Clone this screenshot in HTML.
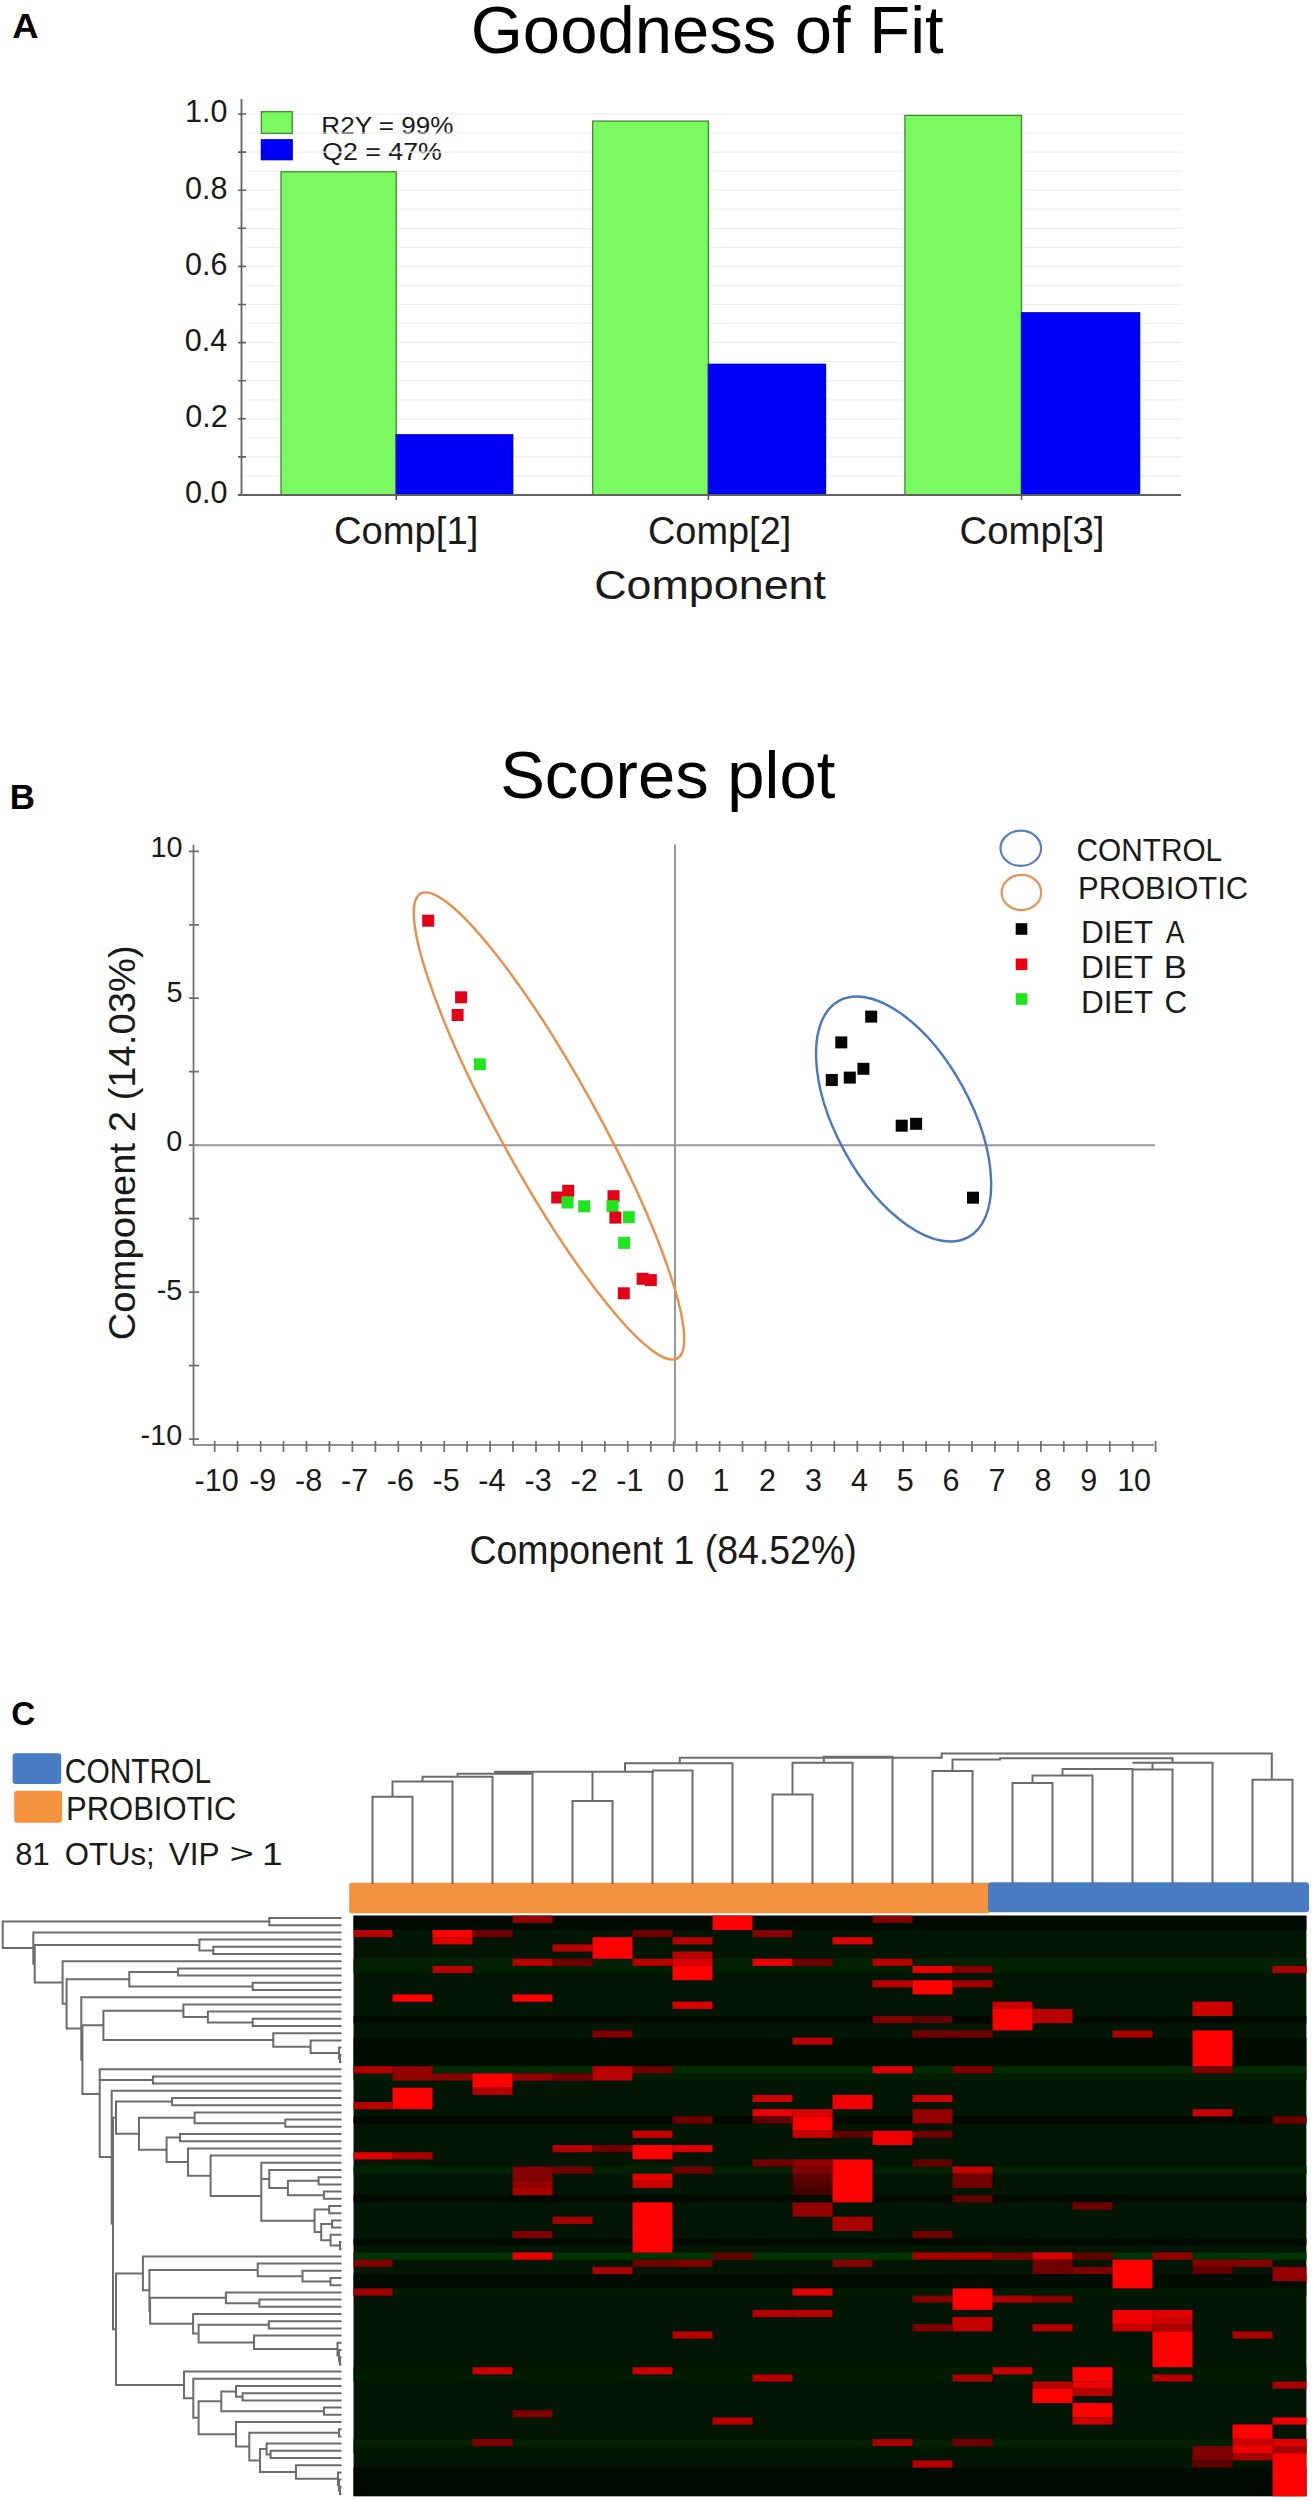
<!DOCTYPE html><html><head><meta charset="utf-8"><style>html,body{margin:0;padding:0;background:#fff;}svg{display:block}</style></head><body>
<svg width="1313" height="2500" viewBox="0 0 1313 2500">
<rect width="1313" height="2500" fill="#fff"/>
<text font-family="Liberation Sans" font-size="100" font-weight="bold" fill="#000" transform="matrix(0.36364 0 0 0.34884 12.16 37.90)">A</text>
<text font-family="Liberation Sans" font-size="100" font-weight="normal" fill="#000" transform="matrix(0.67014 0 0 0.67297 470.75 53.00)">Goodness of Fit</text>
<text font-family="Liberation Sans" font-size="100" font-weight="normal" fill="#1a1a1a" transform="matrix(0.26101 0 0 0.24709 321.31 134.20)">R2Y = 99%</text>
<text font-family="Liberation Sans" font-size="100" font-weight="normal" fill="#1a1a1a" transform="matrix(0.26788 0 0 0.24709 322.06 160.40)">Q2 = 47%</text>
<text font-family="Liberation Sans" font-size="100" font-weight="normal" fill="#1a1a1a" transform="matrix(0.38197 0 0 0.37936 333.99 544.00)">Comp[1]</text>
<text font-family="Liberation Sans" font-size="100" font-weight="normal" fill="#1a1a1a" transform="matrix(0.37923 0 0 0.37936 648.00 544.00)">Comp[2]</text>
<text font-family="Liberation Sans" font-size="100" font-weight="normal" fill="#1a1a1a" transform="matrix(0.38333 0 0 0.37936 959.58 544.00)">Comp[3]</text>
<text font-family="Liberation Sans" font-size="100" font-weight="normal" fill="#1a1a1a" transform="matrix(0.44814 0 0 0.41279 594.26 599.40)">Component</text>
<path d="M246 475.9H1182 M246 456.9H1182 M246 437.9H1182 M246 418.8H1182 M246 399.8H1182 M246 380.7H1182 M246 361.6H1182 M246 342.6H1182 M246 323.5H1182 M246 304.5H1182 M246 285.4H1182 M246 266.4H1182 M246 247.3H1182 M246 228.3H1182 M246 209.2H1182 M246 190.2H1182 M246 171.1H1182 M246 152.1H1182 M246 133.0H1182 M246 114.0H1182" stroke="#eeeeee" stroke-width="1.2" fill="none"/>
<rect x="281.0" y="171.8" width="115.2" height="323.2" fill="#7afa60" stroke="#3f8a32" stroke-width="1.3"/>
<rect x="396.2" y="434.8" width="116.5" height="60.2" fill="#0000fa" stroke="#0000d8" stroke-width="1.3"/>
<rect x="592.7" y="121.1" width="115.7" height="373.9" fill="#7afa60" stroke="#3f8a32" stroke-width="1.3"/>
<rect x="708.4" y="364.3" width="117.1" height="130.7" fill="#0000fa" stroke="#0000d8" stroke-width="1.3"/>
<rect x="904.9" y="115.4" width="116.6" height="379.6" fill="#7afa60" stroke="#3f8a32" stroke-width="1.3"/>
<rect x="1021.5" y="312.8" width="118.1" height="182.2" fill="#0000fa" stroke="#0000d8" stroke-width="1.3"/>
<path d="M241.5 99V495.0M238 495.0H1181" stroke="#606060" stroke-width="1.8" fill="none"/>
<path d="M238 495.0H246 M238 456.9H246 M238 418.8H246 M238 380.7H246 M238 342.6H246 M238 304.5H246 M238 266.4H246 M238 228.3H246 M238 190.2H246 M238 152.1H246 M238 114.0H246 M396.2 495.0V500.0 M708.4 495.0V500.0 M1021.5 495.0V500.0" stroke="#606060" stroke-width="1.6" fill="none"/>
<text font-family="Liberation Sans" font-size="100" fill="#1a1a1a" transform="matrix(0.30523 0 0 0.30523 184.99 503.40)">0.0</text>
<text font-family="Liberation Sans" font-size="100" fill="#1a1a1a" transform="matrix(0.30523 0 0 0.30523 185.30 427.20)">0.2</text>
<text font-family="Liberation Sans" font-size="100" fill="#1a1a1a" transform="matrix(0.30523 0 0 0.30523 184.69 351.00)">0.4</text>
<text font-family="Liberation Sans" font-size="100" fill="#1a1a1a" transform="matrix(0.30523 0 0 0.30523 184.99 274.80)">0.6</text>
<text font-family="Liberation Sans" font-size="100" fill="#1a1a1a" transform="matrix(0.30523 0 0 0.30523 184.99 198.60)">0.8</text>
<text font-family="Liberation Sans" font-size="100" fill="#1a1a1a" transform="matrix(0.30523 0 0 0.30523 184.99 122.40)">1.0</text>
<rect x="261.4" y="111.7" width="30.8" height="21.7" fill="#7afa60" stroke="#3f8a32" stroke-width="1.3"/>
<rect x="261.4" y="139.8" width="30.8" height="19.9" fill="#0000fa" stroke="#0000d8" stroke-width="1.3"/>
<text font-family="Liberation Sans" font-size="100" font-weight="bold" fill="#000" transform="matrix(0.34918 0 0 0.34157 9.76 808.50)">B</text>
<text font-family="Liberation Sans" font-size="100" font-weight="normal" fill="#000" transform="matrix(0.67010 0 0 0.65843 500.15 797.80)">Scores plot</text>
<text font-family="Liberation Sans" font-size="100" font-weight="normal" fill="#1a1a1a" transform="matrix(0.37458 0 0 0.40407 469.43 1564.00)">Component 1 (84.52%)</text>
<text font-family="Liberation Sans" font-size="100" font-weight="normal" fill="#1a1a1a" transform="matrix(0.29792 0 0 0.31395 1076.51 861.10)">CONTROL</text>
<text font-family="Liberation Sans" font-size="100" font-weight="normal" fill="#1a1a1a" transform="matrix(0.30948 0 0 0.31395 1078.02 899.20)">PROBIOTIC</text>
<text font-family="Liberation Sans" font-size="100" font-weight="normal" fill="#1a1a1a" transform="matrix(0.31560 0 0 0.31395 1081.08 943.40)">DIET</text>
<text font-family="Liberation Sans" font-size="100" font-weight="normal" fill="#1a1a1a" transform="matrix(0.28030 0 0 0.31395 1165.80 943.40)">A</text>
<text font-family="Liberation Sans" font-size="100" font-weight="normal" fill="#1a1a1a" transform="matrix(0.31560 0 0 0.31395 1081.08 978.30)">DIET</text>
<text font-family="Liberation Sans" font-size="100" font-weight="normal" fill="#1a1a1a" transform="matrix(0.34528 0 0 0.31395 1163.74 978.30)">B</text>
<text font-family="Liberation Sans" font-size="100" font-weight="normal" fill="#1a1a1a" transform="matrix(0.31560 0 0 0.31395 1081.08 1013.30)">DIET</text>
<text font-family="Liberation Sans" font-size="100" font-weight="normal" fill="#1a1a1a" transform="matrix(0.31429 0 0 0.31395 1164.43 1013.30)">C</text>
<g transform="translate(135.3 1338.3) rotate(-90)"><text font-family="Liberation Sans" font-size="100" fill="#1a1a1a" transform="matrix(0.38192 0 0 0.37791 -1.91 0)">Component 2 (14.03%)</text></g>
<path d="M193.5 844.5V1445.5M193.5 1445H1154 M189 851.3H199 M189 924.8H199 M189 998.2H199 M189 1071.7H199 M189 1145.2H199 M189 1218.7H199 M189 1292.1H199 M189 1365.6H199 M189 1439.1H199 M214.7 1441V1452 M237.6 1441V1452 M260.6 1441V1452 M283.5 1441V1452 M306.5 1441V1452 M329.4 1441V1452 M352.4 1441V1452 M375.4 1441V1452 M398.3 1441V1452 M421.2 1441V1452 M444.2 1441V1452 M467.1 1441V1452 M490.1 1441V1452 M513.0 1441V1452 M536.0 1441V1452 M559.0 1441V1452 M581.9 1441V1452 M604.8 1441V1452 M627.8 1441V1452 M650.8 1441V1452 M673.7 1441V1452 M696.6 1441V1452 M719.6 1441V1452 M742.5 1441V1452 M765.5 1441V1452 M788.5 1441V1452 M811.4 1441V1452 M834.3 1441V1452 M857.3 1441V1452 M880.2 1441V1452 M903.2 1441V1452 M926.1 1441V1452 M949.1 1441V1452 M972.0 1441V1452 M995.0 1441V1452 M1018.0 1441V1452 M1040.9 1441V1452 M1063.8 1441V1452 M1086.8 1441V1452 M1109.8 1441V1452 M1132.7 1441V1452 M1155.6 1441V1452" stroke="#6e6e6e" stroke-width="1.7" fill="none"/>
<path d="M193.5 1145.2H1155M675 844.5V1445" stroke="#999" stroke-width="2" fill="none"/>
<text font-family="Liberation Sans" font-size="100" fill="#1a1a1a" transform="matrix(0.28779 0 0 0.28779 150.41 857.40)">10</text>
<text font-family="Liberation Sans" font-size="100" fill="#1a1a1a" transform="matrix(0.28779 0 0 0.28779 166.52 1002.10)">5</text>
<text font-family="Liberation Sans" font-size="100" fill="#1a1a1a" transform="matrix(0.28779 0 0 0.28779 166.23 1151.40)">0</text>
<text font-family="Liberation Sans" font-size="100" fill="#1a1a1a" transform="matrix(0.28779 0 0 0.28779 156.74 1299.60)">-5</text>
<text font-family="Liberation Sans" font-size="100" fill="#1a1a1a" transform="matrix(0.28779 0 0 0.28779 140.62 1445.40)">-10</text>
<text font-family="Liberation Sans" font-size="100" fill="#1a1a1a" transform="matrix(0.30523 0 0 0.30523 194.57 1491.00)">-10</text>
<text font-family="Liberation Sans" font-size="100" fill="#1a1a1a" transform="matrix(0.30523 0 0 0.30523 249.17 1491.00)">-9</text>
<text font-family="Liberation Sans" font-size="100" fill="#1a1a1a" transform="matrix(0.30523 0 0 0.30523 295.07 1491.00)">-8</text>
<text font-family="Liberation Sans" font-size="100" fill="#1a1a1a" transform="matrix(0.30523 0 0 0.30523 340.97 1491.00)">-7</text>
<text font-family="Liberation Sans" font-size="100" fill="#1a1a1a" transform="matrix(0.30523 0 0 0.30523 386.87 1491.00)">-6</text>
<text font-family="Liberation Sans" font-size="100" fill="#1a1a1a" transform="matrix(0.30523 0 0 0.30523 432.62 1491.00)">-5</text>
<text font-family="Liberation Sans" font-size="100" fill="#1a1a1a" transform="matrix(0.30523 0 0 0.30523 478.36 1491.00)">-4</text>
<text font-family="Liberation Sans" font-size="100" fill="#1a1a1a" transform="matrix(0.30523 0 0 0.30523 524.57 1491.00)">-3</text>
<text font-family="Liberation Sans" font-size="100" fill="#1a1a1a" transform="matrix(0.30523 0 0 0.30523 570.47 1491.00)">-2</text>
<text font-family="Liberation Sans" font-size="100" fill="#1a1a1a" transform="matrix(0.30523 0 0 0.30523 616.37 1491.00)">-1</text>
<text font-family="Liberation Sans" font-size="100" fill="#1a1a1a" transform="matrix(0.30523 0 0 0.30523 667.15 1491.00)">0</text>
<text font-family="Liberation Sans" font-size="100" fill="#1a1a1a" transform="matrix(0.30523 0 0 0.30523 712.60 1491.00)">1</text>
<text font-family="Liberation Sans" font-size="100" fill="#1a1a1a" transform="matrix(0.30523 0 0 0.30523 758.95 1491.00)">2</text>
<text font-family="Liberation Sans" font-size="100" fill="#1a1a1a" transform="matrix(0.30523 0 0 0.30523 805.01 1491.00)">3</text>
<text font-family="Liberation Sans" font-size="100" fill="#1a1a1a" transform="matrix(0.30523 0 0 0.30523 850.91 1491.00)">4</text>
<text font-family="Liberation Sans" font-size="100" fill="#1a1a1a" transform="matrix(0.30523 0 0 0.30523 896.81 1491.00)">5</text>
<text font-family="Liberation Sans" font-size="100" fill="#1a1a1a" transform="matrix(0.30523 0 0 0.30523 942.55 1491.00)">6</text>
<text font-family="Liberation Sans" font-size="100" fill="#1a1a1a" transform="matrix(0.30523 0 0 0.30523 988.45 1491.00)">7</text>
<text font-family="Liberation Sans" font-size="100" fill="#1a1a1a" transform="matrix(0.30523 0 0 0.30523 1034.51 1491.00)">8</text>
<text font-family="Liberation Sans" font-size="100" fill="#1a1a1a" transform="matrix(0.30523 0 0 0.30523 1080.25 1491.00)">9</text>
<text font-family="Liberation Sans" font-size="100" fill="#1a1a1a" transform="matrix(0.30523 0 0 0.30523 1117.15 1491.00)">10</text>
<ellipse cx="549" cy="1126" rx="265.5" ry="48.8" transform="rotate(61.1 549 1126)" fill="none" stroke="#e98f4a" stroke-width="2.4"/>
<ellipse cx="903.6" cy="1119" rx="134.7" ry="67.3" transform="rotate(61.3 903.6 1119)" fill="none" stroke="#4a78bc" stroke-width="2.4"/>
<rect x="422.2" y="914.7" width="12" height="12" fill="#e5001a"/>
<rect x="455.1" y="991.3" width="12" height="12" fill="#e5001a"/>
<rect x="451.6" y="1009.0" width="12" height="12" fill="#e5001a"/>
<rect x="473.8" y="1058.3" width="12" height="12" fill="#1ee61e"/>
<rect x="551.2" y="1191.5" width="12" height="12" fill="#e5001a"/>
<rect x="562.2" y="1184.8" width="12" height="12" fill="#e5001a"/>
<rect x="561.5" y="1196.5" width="12" height="12" fill="#1ee61e"/>
<rect x="578.2" y="1200.3" width="12" height="12" fill="#1ee61e"/>
<rect x="607.5" y="1190.2" width="12" height="12" fill="#e5001a"/>
<rect x="606.5" y="1200.2" width="12" height="12" fill="#1ee61e"/>
<rect x="609.4" y="1211.6" width="12" height="12" fill="#e5001a"/>
<rect x="622.8" y="1211.2" width="12" height="12" fill="#1ee61e"/>
<rect x="618.1" y="1236.9" width="12" height="12" fill="#1ee61e"/>
<rect x="636.6" y="1272.8" width="12" height="12" fill="#e5001a"/>
<rect x="644.8" y="1274.1" width="12" height="12" fill="#e5001a"/>
<rect x="617.8" y="1287.3" width="12" height="12" fill="#e5001a"/>
<rect x="865.2" y="1010.6" width="12" height="12" fill="#050505"/>
<rect x="835.3" y="1036.4" width="12" height="12" fill="#050505"/>
<rect x="857.4" y="1062.8" width="12" height="12" fill="#050505"/>
<rect x="843.8" y="1071.6" width="12" height="12" fill="#050505"/>
<rect x="825.8" y="1074.0" width="12" height="12" fill="#050505"/>
<rect x="895.7" y="1119.7" width="12" height="12" fill="#050505"/>
<rect x="910.1" y="1117.8" width="12" height="12" fill="#050505"/>
<rect x="967.0" y="1191.7" width="12" height="12" fill="#050505"/>
<ellipse cx="1020.8" cy="848.3" rx="20.3" ry="17.6" fill="none" stroke="#5a7fc0" stroke-width="2.2"/>
<ellipse cx="1021.4" cy="892.5" rx="19.8" ry="17.6" fill="none" stroke="#e2945a" stroke-width="2.2"/>
<rect x="1015.7" y="923.2" width="11.6" height="11.6" fill="#050505"/>
<rect x="1015.7" y="958.5" width="11.6" height="11.6" fill="#ee0010"/>
<rect x="1015.7" y="993.2" width="11.6" height="11.6" fill="#1ee61e"/>
<text font-family="Liberation Sans" font-size="100" font-weight="bold" fill="#000" transform="matrix(0.33231 0 0 0.32558 11.27 1725.40)">C</text>
<text font-family="Liberation Sans" font-size="100" font-weight="normal" fill="#1a1a1a" transform="matrix(0.29917 0 0 0.34884 64.80 1783.40)">CONTROL</text>
<text font-family="Liberation Sans" font-size="100" font-weight="normal" fill="#1a1a1a" transform="matrix(0.31004 0 0 0.33430 66.02 1820.00)">PROBIOTIC</text>
<text font-family="Liberation Sans" font-size="100" font-weight="normal" fill="#1a1a1a" transform="matrix(0.30882 0 0 0.31541 15.26 1864.50)">81</text>
<text font-family="Liberation Sans" font-size="100" font-weight="normal" fill="#1a1a1a" transform="matrix(0.31164 0 0 0.31541 64.74 1864.50)">OTUs;</text>
<text font-family="Liberation Sans" font-size="100" font-weight="normal" fill="#1a1a1a" transform="matrix(0.31613 0 0 0.31541 168.68 1864.50)">VIP</text>
<text font-family="Liberation Sans" font-size="100" font-weight="normal" fill="#1a1a1a" transform="matrix(0.41837 0 0 0.27180 229.41 1863.20)">&gt;</text>
<text font-family="Liberation Sans" font-size="100" font-weight="normal" fill="#1a1a1a" transform="matrix(0.37209 0 0 0.31541 262.02 1864.50)">1</text>
<rect x="12.6" y="1753.3" width="48.6" height="30.6" rx="3" fill="#4a7cc4"/>
<rect x="14.2" y="1790.7" width="47.9" height="32" rx="3" fill="#f4923e"/>
<rect x="349.2" y="1882.8" width="641" height="30.4" rx="2" fill="#f4923e"/>
<rect x="988" y="1882.3" width="321" height="30" rx="3" fill="#4a7cc4"/>
<rect x="353.5" y="1915.7" width="952.9" height="580.5" fill="#031603"/>
<rect x="353.5" y="1915.7" width="952.9" height="7.17" fill="rgb(0,10,0)"/>
<rect x="353.5" y="1922.9" width="952.9" height="7.17" fill="rgb(0,12,0)"/>
<rect x="353.5" y="1958.7" width="952.9" height="7.17" fill="rgb(0,34,0)"/>
<rect x="353.5" y="1965.9" width="952.9" height="7.17" fill="rgb(0,32,0)"/>
<rect x="353.5" y="2016.0" width="952.9" height="7.17" fill="rgb(0,9,0)"/>
<rect x="353.5" y="2037.5" width="952.9" height="7.17" fill="rgb(0,13,0)"/>
<rect x="353.5" y="2044.7" width="952.9" height="7.17" fill="rgb(0,12,0)"/>
<rect x="353.5" y="2051.9" width="952.9" height="7.17" fill="rgb(0,13,0)"/>
<rect x="353.5" y="2059.0" width="952.9" height="7.17" fill="rgb(0,14,0)"/>
<rect x="353.5" y="2066.2" width="952.9" height="7.17" fill="rgb(0,44,0)"/>
<rect x="353.5" y="2073.4" width="952.9" height="7.17" fill="rgb(0,30,0)"/>
<rect x="353.5" y="2116.4" width="952.9" height="7.17" fill="rgb(0,10,0)"/>
<rect x="353.5" y="2166.5" width="952.9" height="7.17" fill="rgb(0,34,0)"/>
<rect x="353.5" y="2195.2" width="952.9" height="7.17" fill="rgb(0,11,0)"/>
<rect x="353.5" y="2238.2" width="952.9" height="7.17" fill="rgb(0,11,0)"/>
<rect x="353.5" y="2252.5" width="952.9" height="7.17" fill="rgb(0,52,0)"/>
<rect x="353.5" y="2274.0" width="952.9" height="7.17" fill="rgb(0,13,0)"/>
<rect x="353.5" y="2281.2" width="952.9" height="7.17" fill="rgb(0,13,0)"/>
<rect x="353.5" y="2288.4" width="952.9" height="7.17" fill="rgb(0,28,0)"/>
<rect x="353.5" y="2367.2" width="952.9" height="7.17" fill="rgb(0,28,0)"/>
<rect x="353.5" y="2374.4" width="952.9" height="7.17" fill="rgb(0,28,0)"/>
<rect x="353.5" y="2438.9" width="952.9" height="7.17" fill="rgb(0,32,0)"/>
<rect x="353.5" y="2446.0" width="952.9" height="7.17" fill="rgb(0,26,0)"/>
<rect x="353.5" y="2467.5" width="952.9" height="7.17" fill="rgb(0,11,0)"/>
<rect x="353.5" y="2474.7" width="952.9" height="7.17" fill="rgb(0,10,0)"/>
<rect x="353.5" y="2481.9" width="952.9" height="7.17" fill="rgb(0,10,0)"/>
<rect x="353.5" y="2489.0" width="952.9" height="7.17" fill="rgb(0,9,0)"/>
<rect x="512.5" y="1915.7" width="40.0" height="7.2" fill="rgb(148,0,0)"/>
<rect x="353.5" y="1930.0" width="39.0" height="7.2" fill="rgb(184,0,0)"/>
<rect x="432.5" y="1930.0" width="40.0" height="7.2" fill="rgb(255,0,0)"/>
<rect x="432.5" y="1937.2" width="40.0" height="7.2" fill="rgb(220,0,0)"/>
<rect x="472.5" y="1930.0" width="40.0" height="7.2" fill="rgb(112,0,0)"/>
<rect x="632.5" y="1930.0" width="40.0" height="7.2" fill="rgb(112,0,0)"/>
<rect x="552.5" y="1944.4" width="40.0" height="7.2" fill="rgb(184,0,0)"/>
<rect x="592.5" y="1937.2" width="40.0" height="21.5" fill="rgb(255,0,0)"/>
<rect x="512.5" y="1958.7" width="40.0" height="7.2" fill="rgb(184,0,0)"/>
<rect x="552.5" y="1958.7" width="40.0" height="7.2" fill="rgb(112,0,0)"/>
<rect x="632.5" y="1958.7" width="40.0" height="7.2" fill="rgb(184,0,0)"/>
<rect x="432.5" y="1965.9" width="40.0" height="7.2" fill="rgb(184,0,0)"/>
<rect x="392.5" y="1994.5" width="40.0" height="7.2" fill="rgb(255,0,0)"/>
<rect x="512.5" y="1994.5" width="40.0" height="7.2" fill="rgb(255,0,0)"/>
<rect x="592.5" y="2030.4" width="40.0" height="7.2" fill="rgb(126,0,0)"/>
<rect x="353.5" y="2066.2" width="39.0" height="7.2" fill="rgb(184,0,0)"/>
<rect x="392.5" y="2066.2" width="40.0" height="14.3" fill="rgb(148,0,0)"/>
<rect x="432.5" y="2073.4" width="40.0" height="7.2" fill="rgb(133,0,0)"/>
<rect x="472.5" y="2073.4" width="40.0" height="14.3" fill="rgb(255,0,0)"/>
<rect x="472.5" y="2087.7" width="40.0" height="7.2" fill="rgb(184,0,0)"/>
<rect x="512.5" y="2073.4" width="40.0" height="7.2" fill="rgb(148,0,0)"/>
<rect x="552.5" y="2073.4" width="40.0" height="7.2" fill="rgb(112,0,0)"/>
<rect x="592.5" y="2066.2" width="40.0" height="14.3" fill="rgb(184,0,0)"/>
<rect x="632.5" y="2066.2" width="40.0" height="7.2" fill="rgb(112,0,0)"/>
<rect x="392.5" y="2087.7" width="40.0" height="21.5" fill="rgb(255,0,0)"/>
<rect x="353.5" y="2102.0" width="39.0" height="7.2" fill="rgb(184,0,0)"/>
<rect x="712.5" y="1915.7" width="40.0" height="14.3" fill="rgb(255,0,0)"/>
<rect x="672.5" y="1937.2" width="40.0" height="7.2" fill="rgb(184,0,0)"/>
<rect x="752.5" y="1930.0" width="40.0" height="7.2" fill="rgb(133,0,0)"/>
<rect x="832.5" y="1937.2" width="40.0" height="7.2" fill="rgb(220,0,0)"/>
<rect x="872.5" y="1915.7" width="40.0" height="7.2" fill="rgb(133,0,0)"/>
<rect x="672.5" y="1951.5" width="40.0" height="7.2" fill="rgb(184,0,0)"/>
<rect x="672.5" y="1958.7" width="40.0" height="7.2" fill="rgb(220,0,0)"/>
<rect x="672.5" y="1965.9" width="40.0" height="14.3" fill="rgb(255,0,0)"/>
<rect x="752.5" y="1958.7" width="40.0" height="7.2" fill="rgb(234,0,0)"/>
<rect x="792.5" y="1958.7" width="40.0" height="7.2" fill="rgb(112,0,0)"/>
<rect x="872.5" y="1958.7" width="40.0" height="7.2" fill="rgb(184,0,0)"/>
<rect x="912.5" y="1965.9" width="40.0" height="7.2" fill="rgb(234,0,0)"/>
<rect x="952.5" y="1965.9" width="40.0" height="7.2" fill="rgb(133,0,0)"/>
<rect x="872.5" y="1980.2" width="40.0" height="7.2" fill="rgb(184,0,0)"/>
<rect x="912.5" y="1980.2" width="40.0" height="14.3" fill="rgb(255,0,0)"/>
<rect x="952.5" y="1980.2" width="40.0" height="7.2" fill="rgb(162,0,0)"/>
<rect x="672.5" y="2001.7" width="40.0" height="7.2" fill="rgb(220,0,0)"/>
<rect x="872.5" y="2016.0" width="40.0" height="7.2" fill="rgb(126,0,0)"/>
<rect x="912.5" y="2016.0" width="40.0" height="7.2" fill="rgb(97,0,0)"/>
<rect x="912.5" y="2030.4" width="40.0" height="7.2" fill="rgb(112,0,0)"/>
<rect x="952.5" y="2030.4" width="40.0" height="7.2" fill="rgb(112,0,0)"/>
<rect x="792.5" y="2037.5" width="40.0" height="7.2" fill="rgb(184,0,0)"/>
<rect x="872.5" y="2066.2" width="40.0" height="7.2" fill="rgb(220,0,0)"/>
<rect x="952.5" y="2066.2" width="40.0" height="7.2" fill="rgb(126,0,0)"/>
<rect x="752.5" y="2094.9" width="40.0" height="7.2" fill="rgb(205,0,0)"/>
<rect x="832.5" y="2094.9" width="40.0" height="14.3" fill="rgb(241,0,0)"/>
<rect x="912.5" y="2094.9" width="40.0" height="7.2" fill="rgb(205,0,0)"/>
<rect x="1272.5" y="1965.9" width="33.9" height="7.2" fill="rgb(169,0,0)"/>
<rect x="992.5" y="2001.7" width="40.0" height="7.2" fill="rgb(205,0,0)"/>
<rect x="992.5" y="2008.9" width="40.0" height="21.5" fill="rgb(255,0,0)"/>
<rect x="1032.5" y="2008.9" width="40.0" height="14.3" fill="rgb(184,0,0)"/>
<rect x="1112.5" y="2030.4" width="40.0" height="7.2" fill="rgb(169,0,0)"/>
<rect x="1192.5" y="2001.7" width="40.0" height="14.3" fill="rgb(205,0,0)"/>
<rect x="1192.5" y="2030.4" width="40.0" height="35.8" fill="rgb(255,0,0)"/>
<rect x="1192.5" y="2066.2" width="40.0" height="7.2" fill="rgb(126,0,0)"/>
<rect x="632.5" y="2130.7" width="40.0" height="7.2" fill="rgb(198,0,0)"/>
<rect x="552.5" y="2145.0" width="40.0" height="7.2" fill="rgb(184,0,0)"/>
<rect x="592.5" y="2145.0" width="40.0" height="7.2" fill="rgb(112,0,0)"/>
<rect x="632.5" y="2145.0" width="40.0" height="14.3" fill="rgb(255,0,0)"/>
<rect x="353.5" y="2152.2" width="39.0" height="7.2" fill="rgb(220,0,0)"/>
<rect x="392.5" y="2152.2" width="40.0" height="7.2" fill="rgb(169,0,0)"/>
<rect x="512.5" y="2166.5" width="40.0" height="14.3" fill="rgb(133,0,0)"/>
<rect x="512.5" y="2180.9" width="40.0" height="7.2" fill="rgb(148,0,0)"/>
<rect x="512.5" y="2188.0" width="40.0" height="7.2" fill="rgb(169,0,0)"/>
<rect x="552.5" y="2166.5" width="40.0" height="7.2" fill="rgb(112,0,0)"/>
<rect x="632.5" y="2173.7" width="40.0" height="7.2" fill="rgb(234,0,0)"/>
<rect x="632.5" y="2180.9" width="40.0" height="7.2" fill="rgb(198,0,0)"/>
<rect x="632.5" y="2202.4" width="40.0" height="50.2" fill="rgb(255,0,0)"/>
<rect x="552.5" y="2216.7" width="40.0" height="7.2" fill="rgb(169,0,0)"/>
<rect x="512.5" y="2231.0" width="40.0" height="7.2" fill="rgb(126,0,0)"/>
<rect x="512.5" y="2252.5" width="40.0" height="7.2" fill="rgb(234,0,0)"/>
<rect x="353.5" y="2259.7" width="39.0" height="7.2" fill="rgb(126,0,0)"/>
<rect x="592.5" y="2266.9" width="40.0" height="7.2" fill="rgb(169,0,0)"/>
<rect x="632.5" y="2259.7" width="40.0" height="7.2" fill="rgb(112,0,0)"/>
<rect x="353.5" y="2288.4" width="39.0" height="7.2" fill="rgb(162,0,0)"/>
<rect x="752.5" y="2109.2" width="40.0" height="7.2" fill="rgb(234,0,0)"/>
<rect x="792.5" y="2109.2" width="40.0" height="7.2" fill="rgb(220,0,0)"/>
<rect x="792.5" y="2116.4" width="40.0" height="14.3" fill="rgb(255,0,0)"/>
<rect x="792.5" y="2130.7" width="40.0" height="7.2" fill="rgb(198,0,0)"/>
<rect x="912.5" y="2109.2" width="40.0" height="14.3" fill="rgb(148,0,0)"/>
<rect x="672.5" y="2116.4" width="40.0" height="7.2" fill="rgb(112,0,0)"/>
<rect x="752.5" y="2116.4" width="40.0" height="7.2" fill="rgb(97,0,0)"/>
<rect x="872.5" y="2130.7" width="40.0" height="14.3" fill="rgb(241,0,0)"/>
<rect x="912.5" y="2130.7" width="40.0" height="7.2" fill="rgb(112,0,0)"/>
<rect x="832.5" y="2130.7" width="40.0" height="7.2" fill="rgb(97,0,0)"/>
<rect x="672.5" y="2145.0" width="40.0" height="7.2" fill="rgb(220,0,0)"/>
<rect x="752.5" y="2159.4" width="40.0" height="7.2" fill="rgb(112,0,0)"/>
<rect x="792.5" y="2159.4" width="40.0" height="7.2" fill="rgb(148,0,0)"/>
<rect x="792.5" y="2166.5" width="40.0" height="7.2" fill="rgb(126,0,0)"/>
<rect x="792.5" y="2173.7" width="40.0" height="7.2" fill="rgb(97,0,0)"/>
<rect x="792.5" y="2180.9" width="40.0" height="7.2" fill="rgb(83,0,0)"/>
<rect x="792.5" y="2188.0" width="40.0" height="7.2" fill="rgb(68,0,0)"/>
<rect x="832.5" y="2159.4" width="40.0" height="43.0" fill="rgb(255,0,0)"/>
<rect x="912.5" y="2159.4" width="40.0" height="7.2" fill="rgb(97,0,0)"/>
<rect x="672.5" y="2166.5" width="40.0" height="7.2" fill="rgb(112,0,0)"/>
<rect x="952.5" y="2166.5" width="40.0" height="7.2" fill="rgb(198,0,0)"/>
<rect x="952.5" y="2173.7" width="40.0" height="14.3" fill="rgb(112,0,0)"/>
<rect x="952.5" y="2195.2" width="40.0" height="7.2" fill="rgb(97,0,0)"/>
<rect x="792.5" y="2202.4" width="40.0" height="14.3" fill="rgb(148,0,0)"/>
<rect x="832.5" y="2216.7" width="40.0" height="14.3" fill="rgb(169,0,0)"/>
<rect x="912.5" y="2231.0" width="40.0" height="7.2" fill="rgb(112,0,0)"/>
<rect x="672.5" y="2259.7" width="40.0" height="7.2" fill="rgb(126,0,0)"/>
<rect x="712.5" y="2252.5" width="40.0" height="7.2" fill="rgb(97,0,0)"/>
<rect x="912.5" y="2252.5" width="40.0" height="7.2" fill="rgb(169,0,0)"/>
<rect x="952.5" y="2252.5" width="40.0" height="7.2" fill="rgb(169,0,0)"/>
<rect x="832.5" y="2259.7" width="40.0" height="7.2" fill="rgb(133,0,0)"/>
<rect x="792.5" y="2288.4" width="40.0" height="7.2" fill="rgb(220,0,0)"/>
<rect x="912.5" y="2295.5" width="40.0" height="7.2" fill="rgb(126,0,0)"/>
<rect x="952.5" y="2288.4" width="40.0" height="21.5" fill="rgb(255,0,0)"/>
<rect x="1192.5" y="2109.2" width="40.0" height="7.2" fill="rgb(198,0,0)"/>
<rect x="1272.5" y="2116.4" width="33.9" height="7.2" fill="rgb(112,0,0)"/>
<rect x="1072.5" y="2202.4" width="40.0" height="7.2" fill="rgb(112,0,0)"/>
<rect x="992.5" y="2252.5" width="40.0" height="7.2" fill="rgb(126,0,0)"/>
<rect x="1032.5" y="2252.5" width="40.0" height="7.2" fill="rgb(220,0,0)"/>
<rect x="1032.5" y="2259.7" width="40.0" height="14.3" fill="rgb(112,0,0)"/>
<rect x="1072.5" y="2252.5" width="40.0" height="7.2" fill="rgb(97,0,0)"/>
<rect x="1072.5" y="2266.9" width="40.0" height="7.2" fill="rgb(126,0,0)"/>
<rect x="1112.5" y="2259.7" width="40.0" height="28.7" fill="rgb(255,0,0)"/>
<rect x="1152.5" y="2252.5" width="40.0" height="7.2" fill="rgb(148,0,0)"/>
<rect x="1192.5" y="2259.7" width="40.0" height="7.2" fill="rgb(133,0,0)"/>
<rect x="1192.5" y="2266.9" width="40.0" height="7.2" fill="rgb(97,0,0)"/>
<rect x="1232.5" y="2259.7" width="40.0" height="7.2" fill="rgb(133,0,0)"/>
<rect x="1272.5" y="2266.9" width="33.9" height="14.3" fill="rgb(148,0,0)"/>
<rect x="992.5" y="2295.5" width="40.0" height="7.2" fill="rgb(169,0,0)"/>
<rect x="1032.5" y="2295.5" width="40.0" height="7.2" fill="rgb(133,0,0)"/>
<rect x="472.5" y="2367.2" width="40.0" height="7.2" fill="rgb(205,0,0)"/>
<rect x="632.5" y="2367.2" width="40.0" height="7.2" fill="rgb(205,0,0)"/>
<rect x="512.5" y="2410.2" width="40.0" height="7.2" fill="rgb(126,0,0)"/>
<rect x="472.5" y="2438.9" width="40.0" height="7.2" fill="rgb(126,0,0)"/>
<rect x="752.5" y="2309.9" width="40.0" height="7.2" fill="rgb(184,0,0)"/>
<rect x="792.5" y="2309.9" width="40.0" height="7.2" fill="rgb(184,0,0)"/>
<rect x="672.5" y="2331.4" width="40.0" height="7.2" fill="rgb(184,0,0)"/>
<rect x="912.5" y="2324.2" width="40.0" height="7.2" fill="rgb(126,0,0)"/>
<rect x="952.5" y="2317.0" width="40.0" height="14.3" fill="rgb(198,0,0)"/>
<rect x="752.5" y="2374.4" width="40.0" height="7.2" fill="rgb(184,0,0)"/>
<rect x="952.5" y="2374.4" width="40.0" height="7.2" fill="rgb(169,0,0)"/>
<rect x="712.5" y="2417.4" width="40.0" height="7.2" fill="rgb(184,0,0)"/>
<rect x="872.5" y="2438.9" width="40.0" height="7.2" fill="rgb(169,0,0)"/>
<rect x="952.5" y="2438.9" width="40.0" height="7.2" fill="rgb(112,0,0)"/>
<rect x="912.5" y="2460.4" width="40.0" height="7.2" fill="rgb(184,0,0)"/>
<rect x="1112.5" y="2309.9" width="40.0" height="14.3" fill="rgb(241,0,0)"/>
<rect x="1112.5" y="2324.2" width="40.0" height="7.2" fill="rgb(205,0,0)"/>
<rect x="1152.5" y="2309.9" width="40.0" height="7.2" fill="rgb(227,0,0)"/>
<rect x="1152.5" y="2317.0" width="40.0" height="7.2" fill="rgb(205,0,0)"/>
<rect x="1152.5" y="2324.2" width="40.0" height="7.2" fill="rgb(169,0,0)"/>
<rect x="1152.5" y="2331.4" width="40.0" height="35.8" fill="rgb(255,0,0)"/>
<rect x="1032.5" y="2324.2" width="40.0" height="7.2" fill="rgb(184,0,0)"/>
<rect x="1232.5" y="2331.4" width="40.0" height="7.2" fill="rgb(169,0,0)"/>
<rect x="992.5" y="2367.2" width="40.0" height="7.2" fill="rgb(198,0,0)"/>
<rect x="1152.5" y="2374.4" width="40.0" height="7.2" fill="rgb(184,0,0)"/>
<rect x="1072.5" y="2367.2" width="40.0" height="14.3" fill="rgb(255,0,0)"/>
<rect x="1072.5" y="2381.5" width="40.0" height="7.2" fill="rgb(234,0,0)"/>
<rect x="1072.5" y="2388.7" width="40.0" height="7.2" fill="rgb(184,0,0)"/>
<rect x="1032.5" y="2381.5" width="40.0" height="7.2" fill="rgb(184,0,0)"/>
<rect x="1032.5" y="2388.7" width="40.0" height="14.3" fill="rgb(255,0,0)"/>
<rect x="1072.5" y="2403.0" width="40.0" height="14.3" fill="rgb(255,0,0)"/>
<rect x="1072.5" y="2417.4" width="40.0" height="7.2" fill="rgb(205,0,0)"/>
<rect x="1272.5" y="2381.5" width="33.9" height="7.2" fill="rgb(169,0,0)"/>
<rect x="1272.5" y="2417.4" width="33.9" height="7.2" fill="rgb(234,0,0)"/>
<rect x="1232.5" y="2424.5" width="40.0" height="14.3" fill="rgb(255,0,0)"/>
<rect x="1232.5" y="2438.9" width="40.0" height="7.2" fill="rgb(205,0,0)"/>
<rect x="1232.5" y="2446.0" width="40.0" height="7.2" fill="rgb(241,0,0)"/>
<rect x="1232.5" y="2453.2" width="40.0" height="7.2" fill="rgb(169,0,0)"/>
<rect x="1272.5" y="2438.9" width="33.9" height="7.2" fill="rgb(220,0,0)"/>
<rect x="1272.5" y="2446.0" width="33.9" height="7.2" fill="rgb(169,0,0)"/>
<rect x="1272.5" y="2453.2" width="33.9" height="43.0" fill="rgb(255,0,0)"/>
<rect x="1192.5" y="2446.0" width="40.0" height="14.3" fill="rgb(126,0,0)"/>
<rect x="1192.5" y="2460.4" width="40.0" height="7.2" fill="rgb(97,0,0)"/>
<path d="M372.5 1883V1796.7 M412.5 1883V1796.7 M452.5 1883V1781.6 M492.5 1883V1776.7 M532.5 1883V1773.8 M572.5 1883V1801 M612.5 1883V1801 M652.5 1883V1771.8 M692.5 1883V1770.6 M732.5 1883V1763.8 M772.5 1883V1794.4 M812.5 1883V1794.4 M852.5 1883V1762.8 M892.5 1883V1757 M932.5 1883V1771 M972.5 1883V1771 M1012.5 1883V1783 M1052.5 1883V1783 M1092.5 1883V1775.5 M1132.5 1883V1769.6 M1172.5 1883V1769.6 M1212.5 1883V1762.8 M1252.5 1883V1779.8 M1292.5 1883V1779.8 M372.5 1796.7H412.5 M392.5 1781.6H452.5 M422.5 1776.7H492.5 M457.5 1773.8H532.5 M572.5 1801H612.5 M495 1771.8H653 M653 1770.6H692.5 M625 1763.3H732.5 M679.8 1757.7H892.5 M772.5 1794.4H812.5 M792.5 1762.8H852.5 M823.8 1756.8H892.5 M932.5 1771H972.5 M952.5 1759.4H1000 M941.7 1753.5H1271.8 M1012.5 1783H1052.5 M1032.5 1775.5H1092.5 M1062.5 1769H1132.5 M1132.5 1769.6H1172.5 M1133.4 1762.8H1212.5 M1000 1758.3H1172.5 M1252.5 1779.8H1292.5 M892.5 1757.7H941.7 M392.5 1781.6V1796.7 M422.5 1776.7V1781.6 M457.5 1773.8V1776.7 M495 1771.8V1773.8 M592.5 1771.8V1801 M625 1763.3V1771.8 M679.8 1757.7V1763.3 M792.5 1762.8V1794.4 M823.8 1756.8V1762.8 M952.5 1759.4V1771 M941.7 1753.5V1757.7 M1032.5 1775.5V1783 M1062.5 1769V1775.5 M1152.5 1762.8V1769.6 M1172.5 1758.3V1762.8 M1271.8 1753.5V1779.8 M1000 1758.3V1759.4" stroke="#6c6c6c" stroke-width="2" fill="none" stroke-linecap="square"/>
<path d="M269.3 1918.0H340.5 M269.3 1925.2H340.5 M269.3 1918.0V1925.2 M213.3 1946.8H340.5 M213.3 1954.0H340.5 M213.3 1946.8V1954.0 M199.4 1939.6H340.5 M199.4 1950.4H213.3 M199.4 1939.6V1950.4 M178.1 1968.4H340.5 M178.1 1975.6H340.5 M178.1 1968.4V1975.6 M252.7 1982.8H340.5 M252.7 1990.0H340.5 M252.7 1982.8V1990.0 M129.3 1972.0H178.1 M129.3 1986.4H252.7 M129.3 1972.0V1986.4 M252.7 2018.8H340.5 M252.7 2026.0H340.5 M252.7 2018.8V2026.0 M207.9 2011.6H340.5 M207.9 2022.4H252.7 M207.9 2011.6V2022.4 M183.4 2004.4H340.5 M183.4 2017.0H207.9 M183.4 2004.4V2017.0 M340.0 2054.8H340.5 M340.0 2062.0H340.5 M340.0 2054.8V2062.0 M339.0 2047.6H340.5 M339.0 2058.4H340.0 M339.0 2047.6V2058.4 M310.6 2040.4H340.5 M310.6 2053.0H339.0 M310.6 2040.4V2053.0 M273.3 2033.2H340.5 M273.3 2046.7H310.6 M273.3 2033.2V2046.7 M103.4 2010.7H183.4 M103.4 2040.0H273.3 M103.4 2010.7V2040.0 M152.9 2076.4H340.5 M152.9 2083.6H340.5 M152.9 2076.4V2083.6 M172.1 2098.0H340.5 M172.1 2105.2H340.5 M172.1 2098.0V2105.2 M285.3 2119.6H340.5 M285.3 2126.8H340.5 M285.3 2119.6V2126.8 M194.6 2112.4H340.5 M194.6 2123.2H285.3 M194.6 2112.4V2123.2 M180.0 2134.0H340.5 M180.0 2141.2H340.5 M180.0 2134.0V2141.2 M318.6 2177.2H340.5 M318.6 2184.4H340.5 M318.6 2177.2V2184.4 M323.9 2191.6H340.5 M323.9 2198.8H340.5 M323.9 2191.6V2198.8 M287.9 2180.8H318.6 M287.9 2195.2H323.9 M287.9 2180.8V2195.2 M269.3 2170.0H340.5 M269.3 2188.0H287.9 M269.3 2170.0V2188.0 M261.3 2162.8H340.5 M261.3 2179.0H269.3 M261.3 2162.8V2179.0 M329.2 2206.0H340.5 M329.2 2213.2H340.5 M329.2 2206.0V2213.2 M332.0 2220.4H340.5 M332.0 2227.6H340.5 M332.0 2220.4V2227.6 M340.0 2242.0H340.5 M340.0 2249.2H340.5 M340.0 2242.0V2249.2 M330.6 2234.8H340.5 M330.6 2245.6H340.0 M330.6 2234.8V2245.6 M321.2 2224.0H332.0 M321.2 2240.2H330.6 M321.2 2224.0V2240.2 M314.6 2209.6H329.2 M314.6 2232.1H321.2 M314.6 2209.6V2232.1 M261.3 2170.9H261.3 M261.3 2220.8H314.6 M261.3 2170.9V2220.8 M210.6 2155.6H340.5 M210.6 2195.9H261.3 M210.6 2155.6V2195.9 M188.0 2148.4H340.5 M188.0 2175.7H210.6 M188.0 2148.4V2175.7 M166.6 2137.6H180.0 M166.6 2162.1H188.0 M166.6 2137.6V2162.1 M139.0 2117.8H194.6 M139.0 2149.8H166.6 M139.0 2117.8V2149.8 M116.0 2101.6H172.1 M116.0 2133.8H139.0 M116.0 2101.6V2133.8 M330.5 2278.0H340.5 M330.5 2285.2H340.5 M330.5 2278.0V2285.2 M302.5 2270.8H340.5 M302.5 2281.6H330.5 M302.5 2270.8V2281.6 M257.7 2263.6H340.5 M257.7 2276.2H302.5 M257.7 2263.6V2276.2 M259.4 2299.6H340.5 M259.4 2306.8H340.5 M259.4 2299.6V2306.8 M225.9 2292.4H340.5 M225.9 2303.2H259.4 M225.9 2292.4V2303.2 M268.8 2321.2H340.5 M268.8 2328.4H340.5 M268.8 2321.2V2328.4 M340.0 2357.2H340.5 M340.0 2364.4H340.5 M340.0 2357.2V2364.4 M339.0 2350.0H340.5 M339.0 2360.8H340.0 M339.0 2350.0V2360.8 M337.5 2342.8H340.5 M337.5 2355.4H339.0 M337.5 2342.8V2355.4 M254.0 2335.6H340.5 M254.0 2349.1H337.5 M254.0 2335.6V2349.1 M198.6 2324.8H268.8 M198.6 2342.4H254.0 M198.6 2324.8V2342.4 M193.1 2314.0H340.5 M193.1 2333.6H198.6 M193.1 2314.0V2333.6 M150.1 2297.8H225.9 M150.1 2323.8H193.1 M150.1 2297.8V2323.8 M149.4 2269.9H257.7 M149.4 2310.8H150.1 M149.4 2269.9V2310.8 M142.9 2256.4H340.5 M142.9 2290.3H149.4 M142.9 2256.4V2290.3 M242.6 2393.2H340.5 M242.6 2400.4H340.5 M242.6 2393.2V2400.4 M236.0 2386.0H340.5 M236.0 2396.8H242.6 M236.0 2386.0V2396.8 M324.0 2407.6H340.5 M324.0 2414.8H340.5 M324.0 2407.6V2414.8 M221.3 2391.4H236.0 M221.3 2411.2H324.0 M221.3 2391.4V2411.2 M339.0 2429.2H340.5 M339.0 2436.4H340.5 M339.0 2429.2V2436.4 M270.6 2450.8H340.5 M270.6 2458.0H340.5 M270.6 2450.8V2458.0 M266.6 2443.6H340.5 M266.6 2454.4H270.6 M266.6 2443.6V2454.4 M340.0 2486.8H340.5 M340.0 2494.0H340.5 M340.0 2486.8V2494.0 M339.0 2479.6H340.5 M339.0 2490.4H340.0 M339.0 2479.6V2490.4 M338.0 2472.4H340.5 M338.0 2485.0H339.0 M338.0 2472.4V2485.0 M296.0 2465.2H340.5 M296.0 2478.7H338.0 M296.0 2465.2V2478.7 M260.0 2449.0H266.6 M260.0 2471.9H296.0 M260.0 2449.0V2471.9 M249.3 2432.8H339.0 M249.3 2460.5H260.0 M249.3 2432.8V2460.5 M236.0 2422.0H340.5 M236.0 2446.6H249.3 M236.0 2422.0V2446.6 M198.6 2401.3H221.3 M198.6 2434.3H236.0 M198.6 2401.3V2434.3 M193.3 2378.8H340.5 M193.3 2417.8H198.6 M193.3 2378.8V2417.8 M184.0 2371.6H340.5 M184.0 2398.3H193.3 M184.0 2371.6V2398.3 M116.0 2273.4H142.9 M116.0 2385.0H184.0 M116.0 2273.4V2385.0 M113.0 2117.7H116.0 M113.0 2329.2H116.0 M113.0 2117.7V2329.2 M111.7 2090.8H340.5 M111.7 2223.4H113.0 M111.7 2090.8V2223.4 M99.7 2080.0H152.9 M99.7 2157.1H111.7 M99.7 2080.0V2157.1 M99.7 2069.2H340.5 M99.7 2118.6H99.7 M99.7 2069.2V2118.6 M82.4 2025.3H103.4 M82.4 2093.9H99.7 M82.4 2025.3V2093.9 M81.3 1997.2H340.5 M81.3 2059.6H82.4 M81.3 1997.2V2059.6 M66.6 1979.2H129.3 M66.6 2028.4H81.3 M66.6 1979.2V2028.4 M62.6 1961.2H340.5 M62.6 2003.8H66.6 M62.6 1961.2V2003.8 M34.7 1945.0H199.4 M34.7 1982.5H62.6 M34.7 1945.0V1982.5 M33.3 1932.4H340.5 M33.3 1963.8H34.7 M33.3 1932.4V1963.8 M2.7 1921.6H269.3 M2.7 1948.1H33.3 M2.7 1921.6V1948.1" stroke="#6c6c6c" stroke-width="2" fill="none" stroke-linecap="square"/>
</svg></body></html>
